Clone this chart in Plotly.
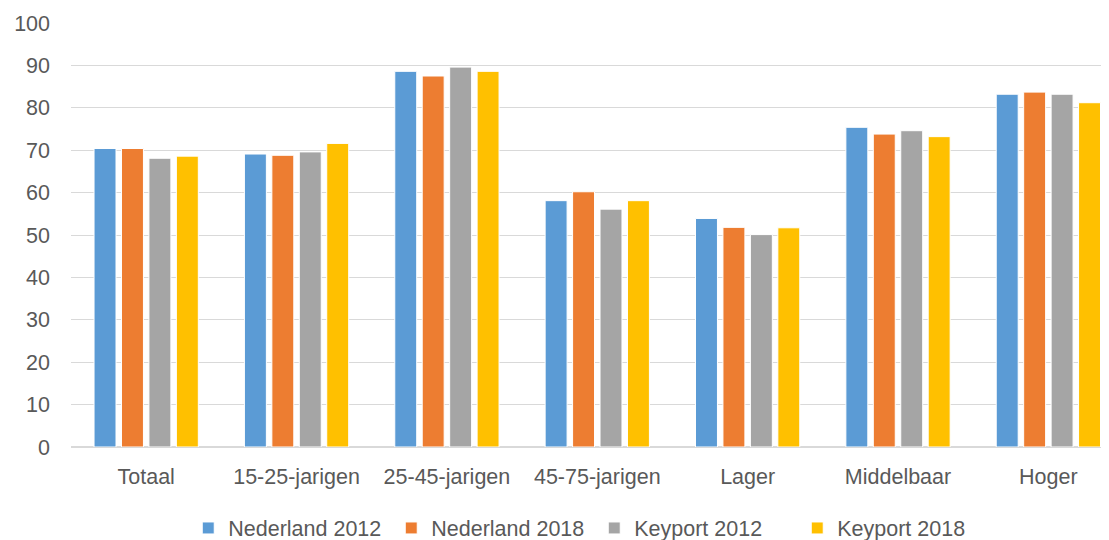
import plotly.graph_objects as go

categories = ["Totaal", "15-25-jarigen", "25-45-jarigen", "45-75-jarigen", "Lager", "Middelbaar", "Hoger"]
nl_2012 = [70.4, 69.1, 88.6, 58.1, 53.9, 75.4, 83.2]
nl_2018 = [70.4, 68.8, 87.5, 60.2, 51.8, 73.8, 83.7]
kp_2012 = [68.1, 69.6, 89.6, 56.1, 50.1, 74.6, 83.2]
kp_2018 = [68.6, 71.6, 88.6, 58.1, 51.7, 73.2, 81.2]
series_names = ["Nederland 2012", "Nederland 2018", "Keyport 2012", "Keyport 2018"]
colors = ["#5B9BD5", "#ED7D31", "#A5A5A5", "#FFC000"]
y_ticks = list(range(0, 101, 10))

fig = go.Figure()
for name, vals, col in zip(series_names, [nl_2012, nl_2018, kp_2012, kp_2018], colors):
    fig.add_trace(go.Bar(x=categories, y=vals, name=name,
                         marker=dict(color=col, line=dict(color="white", width=1))))

font_family = "Liberation Sans, Arial, sans-serif"
fs = 21.5
# page body has an 8px default margin, so the figure is sized/offset to compensate
fig.update_layout(
    width=1101, height=532,
    margin=dict(l=63, r=8, t=15, b=93, autoexpand=False),
    paper_bgcolor="white", plot_bgcolor="white",
    barmode="group", bargap=0.27, bargroupgap=0.2,
    font=dict(family=font_family, size=fs, color="#595959"),
    showlegend=True,
    legend=dict(orientation="h", x=0.508, xanchor="center", y=-0.191, yanchor="middle",
                font=dict(size=fs, color="#595959"), traceorder="normal",
                entrywidth=158, tracegroupgap=0),
    xaxis=dict(showgrid=False, showline=True, linecolor="#d9d9d9", linewidth=1,
               tickfont=dict(size=fs, color="#595959"), ticks="", automargin=False,
               ticklabelstandoff=10, range=[-0.5, 6.35]),
    yaxis=dict(range=[0, 100], tickvals=y_ticks, showgrid=True, gridcolor="#d9d9d9",
               gridwidth=1, zeroline=True, zerolinecolor="#d9d9d9", showline=False,
               tickfont=dict(size=fs, color="#595959"), ticks="", ticklabelstandoff=20,
               automargin=False),
)

fig.write_html("out.html")
